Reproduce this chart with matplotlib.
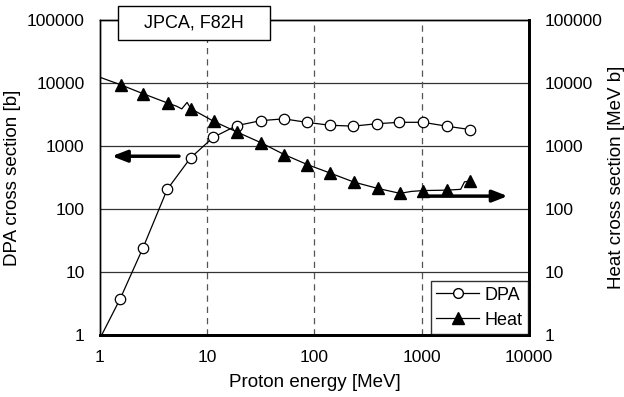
import numpy as np
import matplotlib
matplotlib.use("Agg")
import matplotlib.pyplot as plt
from matplotlib.lines import Line2D
from matplotlib.patches import Rectangle

plt.rcParams['font.family'] = ['Liberation Sans', 'DejaVu Sans']

# DPA cross section markers [b]
dpa_e = [1.54, 2.53, 4.24, 7.0, 11.4, 18.8, 31.7, 51.9, 84.4, 139, 230, 380, 617, 1025, 1700, 2800]
dpa_v = [3.7, 24.4, 204, 647, 1370, 2100, 2520, 2690, 2370, 2130, 2060, 2250, 2370, 2370, 2060, 1820]
# DPA curve (starts at the bottom left corner)
dpa_line_e = [1.04] + dpa_e
dpa_line_v = [1.0] + dpa_v

# Heat cross section markers [MeV b]
heat_e = [1.56, 2.53, 4.27, 7.05, 11.5, 19.0, 31.9, 52.2, 85.5, 139, 233, 388, 626, 1030, 1730, 2840]
heat_v = [9340, 6740, 4800, 3900, 2460, 1660, 1120, 730, 507, 373, 267, 212, 177, 196, 199, 276]
# heat curve
heat_line_e = [1.0, 1.56, 2.53, 4.27, 5.2, 5.8, 6.5, 7.05, 11.5, 19.0, 31.9, 52.2, 85.5, 139, 233,
               388, 626, 800, 1030, 1730, 2300, 2500, 2840]
heat_line_v = [12300, 9340, 6740, 4800, 4260, 3870, 4900, 3900, 2460, 1660, 1120, 730, 507, 373, 267,
               212, 177, 190, 196, 199, 205, 270, 276]

fig = plt.figure(figsize=(6.24, 3.97), dpi=100)
ax = fig.add_axes([0.160, 0.156, 0.688, 0.794])
ax.set_xscale('log')
ax.set_yscale('log')
ax.set_xlim(1, 10000)
ax.set_ylim(1, 100000)

for y in [10, 100, 1000, 10000]:
    ax.axhline(y, color='#333333', lw=0.9, zorder=1)
for x in [10, 100, 1000]:
    ax.axvline(x, color='#555555', lw=0.9, ls=(0, (5, 4)), zorder=1)

ax.plot(dpa_line_e, dpa_line_v, color='black', lw=0.9, zorder=3)
ax.plot(dpa_e, dpa_v, ls='none', marker='o', ms=7.5, mfc='white', mec='black', mew=0.9, zorder=4)

ax2 = ax.twinx()
ax2.set_yscale('log')
ax2.set_ylim(1, 100000)
ax2.set_xlim(1, 10000)
ax2.plot(heat_line_e, heat_line_v, color='black', lw=0.9, zorder=3)
ax2.plot(heat_e, heat_v, ls='none', marker='^', ms=8, color='black', zorder=4)

# arrows pointing to the axes
ax.annotate('', xy=(1.22, 687), xytext=(5.8, 687),
            arrowprops=dict(arrowstyle='-|>,head_length=0.9,head_width=0.35', lw=2.5, color='black'))
ax2.annotate('', xy=(6700, 160), xytext=(995, 160),
             arrowprops=dict(arrowstyle='-|>,head_length=0.9,head_width=0.35', lw=2.5, color='black'))

ticks = [1, 10, 100, 1000, 10000, 100000]
for a in (ax, ax2):
    a.minorticks_off()
    a.tick_params(length=0, labelsize=12.5)
ax.set_yticks(ticks)
ax.set_yticklabels([str(t) for t in ticks])
ax2.set_yticks(ticks)
ax2.set_yticklabels([str(t) for t in ticks])
ax.set_xticks([1, 10, 100, 1000, 10000])
ax.set_xticklabels(['1', '10', '100', '1000', '10000'])
ax.tick_params(axis='y', pad=11)
ax.tick_params(axis='x', pad=11)
ax2.tick_params(axis='y', pad=11)

for a in (ax, ax2):
    a.spines['top'].set_linewidth(1.0)
    a.spines['left'].set_linewidth(1.0)
    a.spines['bottom'].set_linewidth(2.0)
    a.spines['right'].set_linewidth(2.0)

ax.set_xlabel('Proton energy [MeV]', fontsize=13.5, labelpad=6)
ax.set_ylabel('DPA cross section [b]', fontsize=13.5, labelpad=4)
ax2.set_ylabel('Heat cross section [MeV b]', fontsize=13.5, labelpad=4)

# title box sitting on the top spine
ax2.add_patch(Rectangle((0.042, 0.937), 0.354, 0.107, transform=ax.transAxes, fc='white',
                        ec='black', lw=1.0, clip_on=False, zorder=9))
ax2.text(0.219, 0.99, 'JPCA, F82H', transform=ax.transAxes, ha='center', va='center',
         fontsize=13, zorder=10, clip_on=False)

handles = [Line2D([], [], color='black', lw=0.9, marker='o', ms=7, mfc='white', mec='black'),
           Line2D([], [], color='black', lw=0.9, marker='^', ms=8)]
leg = ax2.legend(handles, ['DPA', 'Heat'], loc='lower right', fontsize=13, frameon=True,
                 fancybox=False, edgecolor='black', borderpad=0.3, handlelength=2.4,
                 handletextpad=0.3, labelspacing=0.45, borderaxespad=0.05)
leg.get_frame().set_linewidth(1.0)
leg.set_zorder(20)

fig.savefig('out.png', dpi=100)
